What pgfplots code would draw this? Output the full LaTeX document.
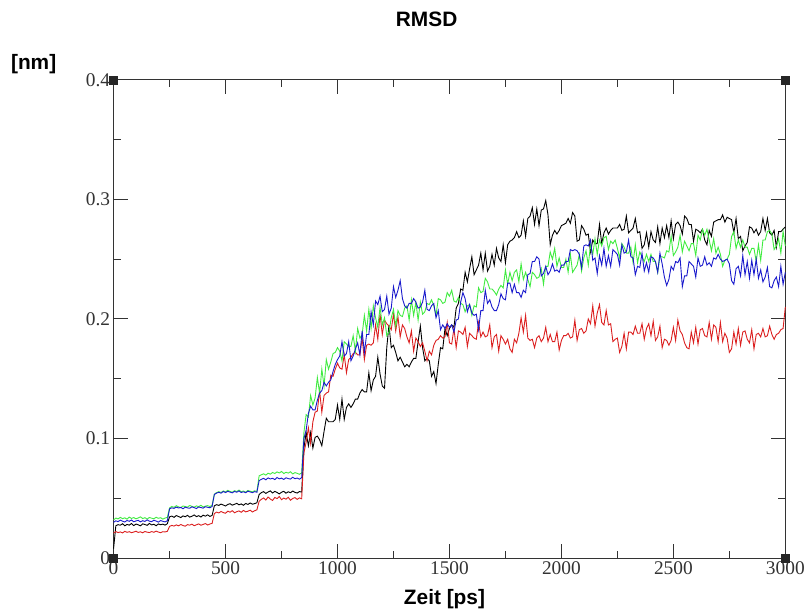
\documentclass[border=0pt]{standalone}
\usepackage{fontspec}
\setmainfont{Liberation Serif}
\newfontfamily\lsans{Liberation Sans}
\usepackage{pgfplots}
\usepackage{pgfplotstable}
\pgfplotsset{compat=1.18}

\definecolor{gBlack}{rgb}{0,0,0}
\definecolor{gRed}{rgb}{0.86,0.12,0.12}
\definecolor{gGreen}{rgb}{0.25,0.92,0.25}
\definecolor{gBlue}{rgb}{0.10,0.10,0.80}

% t = time [ps], k/r/g/b = black, red, green, blue series [nm]
\pgfplotstableread{
t k r g b
0 0.0080 0.0210 0.0320 0.0300
10 0.0270 0.0222 0.0335 0.0312
20 0.0280 0.0214 0.0328 0.0305
30 0.0275 0.0219 0.0341 0.0318
40 0.0288 0.0211 0.0330 0.0309
50 0.0270 0.0224 0.0337 0.0302
60 0.0282 0.0216 0.0326 0.0315
70 0.0276 0.0221 0.0343 0.0308
80 0.0290 0.0213 0.0332 0.0319
90 0.0272 0.0218 0.0339 0.0304
100 0.0285 0.0225 0.0329 0.0311
110 0.0279 0.0215 0.0336 0.0316
120 0.0270 0.0220 0.0345 0.0303
130 0.0287 0.0212 0.0331 0.0313
140 0.0281 0.0223 0.0338 0.0307
150 0.0274 0.0217 0.0327 0.0320
160 0.0290 0.0214 0.0340 0.0309
170 0.0278 0.0222 0.0334 0.0305
180 0.0283 0.0216 0.0329 0.0317
190 0.0271 0.0226 0.0342 0.0310
200 0.0286 0.0218 0.0333 0.0301
210 0.0279 0.0213 0.0338 0.0314
220 0.0284 0.0221 0.0326 0.0308
230 0.0276 0.0219 0.0335 0.0303
240 0.0288 0.0224 0.0341 0.0312
250 0.0345 0.0265 0.0420 0.0412
260 0.0352 0.0274 0.0432 0.0421
270 0.0341 0.0268 0.0425 0.0416
280 0.0356 0.0278 0.0438 0.0427
290 0.0348 0.0270 0.0429 0.0419
300 0.0339 0.0281 0.0422 0.0424
310 0.0353 0.0273 0.0436 0.0413
320 0.0346 0.0267 0.0431 0.0426
330 0.0358 0.0280 0.0427 0.0420
340 0.0343 0.0276 0.0440 0.0417
350 0.0350 0.0284 0.0433 0.0429
360 0.0361 0.0271 0.0426 0.0422
370 0.0347 0.0279 0.0437 0.0415
380 0.0355 0.0286 0.0430 0.0428
390 0.0344 0.0275 0.0442 0.0423
400 0.0359 0.0282 0.0428 0.0418
410 0.0351 0.0289 0.0435 0.0430
420 0.0362 0.0277 0.0439 0.0425
430 0.0349 0.0285 0.0431 0.0421
440 0.0357 0.0291 0.0444 0.0432
450 0.0438 0.0372 0.0535 0.0532
460 0.0447 0.0385 0.0548 0.0544
470 0.0441 0.0378 0.0556 0.0551
480 0.0452 0.0390 0.0549 0.0543
490 0.0444 0.0381 0.0562 0.0557
500 0.0436 0.0375 0.0553 0.0548
510 0.0449 0.0393 0.0567 0.0559
520 0.0455 0.0384 0.0558 0.0552
530 0.0443 0.0397 0.0551 0.0546
540 0.0450 0.0379 0.0564 0.0558
550 0.0458 0.0388 0.0557 0.0551
560 0.0446 0.0395 0.0569 0.0562
570 0.0453 0.0383 0.0555 0.0549
580 0.0442 0.0399 0.0561 0.0555
590 0.0457 0.0387 0.0552 0.0547
600 0.0449 0.0392 0.0566 0.0560
610 0.0461 0.0401 0.0559 0.0553
620 0.0451 0.0386 0.0554 0.0548
630 0.0456 0.0396 0.0563 0.0556
640 0.0463 0.0404 0.0557 0.0551
650 0.0532 0.0475 0.0688 0.0648
660 0.0548 0.0492 0.0697 0.0659
670 0.0556 0.0503 0.0705 0.0667
680 0.0541 0.0486 0.0694 0.0655
690 0.0553 0.0511 0.0710 0.0671
700 0.0562 0.0494 0.0702 0.0662
710 0.0545 0.0482 0.0716 0.0668
720 0.0558 0.0507 0.0708 0.0657
730 0.0549 0.0498 0.0721 0.0674
740 0.0537 0.0515 0.0712 0.0663
750 0.0551 0.0489 0.0725 0.0669
760 0.0559 0.0502 0.0707 0.0658
770 0.0543 0.0493 0.0718 0.0672
780 0.0555 0.0509 0.0711 0.0665
790 0.0547 0.0484 0.0722 0.0661
800 0.0561 0.0499 0.0704 0.0676
810 0.0550 0.0506 0.0715 0.0664
820 0.0544 0.0491 0.0709 0.0670
830 0.0557 0.0504 0.0701 0.0660
840 0.0552 0.0496 0.0713 0.0673
850 0.0920 0.0880 0.1050 0.1000
860 0.105 0.097 0.120 0.107
870 0.094 0.109 0.118 0.121
880 0.105 0.096 0.136 0.127
890 0.092 0.114 0.128 0.124
900 0.101 0.122 0.134 0.124
910 0.102 0.123 0.151 0.132
920 0.099 0.140 0.138 0.138
930 0.094 0.122 0.158 0.140
940 0.106 0.136 0.144 0.147
950 0.117 0.138 0.166 0.144
960 0.114 0.139 0.158 0.147
970 0.114 0.153 0.164 0.149
980 0.114 0.152 0.171 0.156
990 0.116 0.158 0.172 0.162
1000 0.128 0.163 0.176 0.166
1010 0.116 0.159 0.173 0.169
1020 0.133 0.158 0.165 0.181
1030 0.116 0.170 0.181 0.169
1040 0.126 0.155 0.179 0.171
1050 0.129 0.166 0.177 0.181
1060 0.126 0.168 0.177 0.165
1070 0.129 0.171 0.186 0.169
1080 0.133 0.172 0.173 0.175
1090 0.133 0.170 0.192 0.180
1100 0.138 0.170 0.184 0.170
1110 0.141 0.184 0.187 0.190
1120 0.139 0.166 0.203 0.172
1130 0.139 0.178 0.190 0.187
1140 0.155 0.179 0.208 0.187
1150 0.140 0.178 0.192 0.206
1160 0.149 0.180 0.211 0.195
1170 0.152 0.195 0.201 0.215
1180 0.168 0.183 0.193 0.212
1190 0.154 0.204 0.210 0.219
1200 0.144 0.187 0.195 0.206
1210 0.142 0.199 0.201 0.208
1220 0.176 0.196 0.186 0.219
1230 0.195 0.194 0.189 0.204
1240 0.176 0.191 0.201 0.209
1250 0.178 0.204 0.208 0.227
1260 0.172 0.190 0.194 0.218
1270 0.165 0.202 0.207 0.224
1280 0.168 0.185 0.203 0.232
1290 0.164 0.195 0.202 0.217
1300 0.160 0.192 0.209 0.211
1310 0.162 0.185 0.211 0.209
1320 0.160 0.180 0.199 0.213
1330 0.164 0.190 0.216 0.213
1340 0.167 0.173 0.203 0.217
1350 0.167 0.184 0.214 0.214
1360 0.181 0.181 0.199 0.209
1370 0.194 0.177 0.214 0.210
1380 0.176 0.180 0.204 0.214
1390 0.165 0.173 0.206 0.224
1400 0.167 0.165 0.213 0.208
1410 0.165 0.173 0.212 0.207
1420 0.152 0.170 0.216 0.211
1430 0.156 0.178 0.211 0.213
1440 0.146 0.182 0.203 0.201
1450 0.162 0.183 0.217 0.207
1460 0.176 0.186 0.216 0.191
1470 0.175 0.184 0.213 0.195
1480 0.192 0.185 0.214 0.192
1490 0.186 0.197 0.222 0.196
1500 0.192 0.180 0.219 0.193
1510 0.195 0.179 0.224 0.195
1520 0.193 0.192 0.215 0.189
1530 0.209 0.176 0.214 0.199
1540 0.213 0.190 0.218 0.200
1550 0.225 0.189 0.213 0.214
1560 0.224 0.187 0.212 0.222
1570 0.239 0.193 0.206 0.217
1580 0.231 0.177 0.211 0.206
1590 0.242 0.188 0.212 0.212
1600 0.252 0.186 0.203 0.205
1610 0.237 0.184 0.211 0.203
1620 0.241 0.183 0.210 0.204
1630 0.245 0.197 0.226 0.191
1640 0.255 0.185 0.222 0.207
1650 0.241 0.189 0.223 0.207
1660 0.255 0.185 0.234 0.224
1670 0.240 0.186 0.231 0.213
1680 0.244 0.195 0.225 0.216
1690 0.254 0.176 0.225 0.210
1700 0.245 0.185 0.223 0.207
1710 0.259 0.187 0.220 0.207
1720 0.251 0.173 0.225 0.212
1730 0.248 0.186 0.228 0.221
1740 0.262 0.183 0.226 0.217
1750 0.247 0.179 0.241 0.216
1760 0.262 0.183 0.229 0.230
1770 0.265 0.175 0.239 0.230
1780 0.266 0.172 0.232 0.222
1790 0.268 0.183 0.239 0.229
1800 0.273 0.180 0.241 0.222
1810 0.268 0.188 0.231 0.222
1820 0.270 0.201 0.246 0.218
1830 0.282 0.189 0.233 0.224
1840 0.269 0.203 0.239 0.222
1850 0.284 0.184 0.233 0.237
1860 0.286 0.182 0.227 0.238
1870 0.293 0.183 0.239 0.248
1880 0.279 0.176 0.237 0.248
1890 0.292 0.184 0.234 0.252
1900 0.278 0.186 0.235 0.250
1910 0.291 0.181 0.242 0.236
1920 0.292 0.184 0.229 0.238
1930 0.299 0.193 0.244 0.244
1940 0.287 0.181 0.244 0.237
1950 0.262 0.187 0.256 0.240
1960 0.270 0.181 0.250 0.246
1970 0.274 0.181 0.259 0.240
1980 0.271 0.189 0.244 0.241
1990 0.274 0.174 0.251 0.239
2000 0.278 0.182 0.243 0.245
2010 0.279 0.186 0.243 0.245
2020 0.280 0.186 0.250 0.248
2030 0.284 0.188 0.239 0.248
2040 0.280 0.184 0.254 0.258
2050 0.289 0.185 0.239 0.257
2060 0.286 0.199 0.242 0.258
2070 0.265 0.182 0.245 0.257
2080 0.266 0.191 0.254 0.254
2090 0.278 0.192 0.240 0.243
2100 0.275 0.188 0.251 0.261
2110 0.270 0.190 0.257 0.262
2120 0.271 0.200 0.245 0.261
2130 0.256 0.196 0.262 0.266
2140 0.266 0.211 0.254 0.249
2150 0.263 0.194 0.267 0.251
2160 0.263 0.205 0.254 0.238
2170 0.279 0.212 0.266 0.253
2180 0.263 0.197 0.261 0.245
2190 0.272 0.195 0.268 0.259
2200 0.276 0.207 0.269 0.244
2210 0.271 0.195 0.258 0.253
2220 0.274 0.196 0.265 0.244
2230 0.276 0.181 0.263 0.258
2240 0.276 0.183 0.266 0.256
2250 0.276 0.184 0.259 0.254
2260 0.279 0.172 0.251 0.245
2270 0.274 0.177 0.263 0.262
2280 0.275 0.188 0.260 0.255
2290 0.286 0.175 0.255 0.256
2300 0.272 0.189 0.255 0.266
2310 0.274 0.189 0.260 0.252
2320 0.276 0.187 0.247 0.251
2330 0.284 0.194 0.262 0.237
2340 0.272 0.188 0.247 0.244
2350 0.273 0.188 0.256 0.243
2360 0.259 0.196 0.252 0.255
2370 0.262 0.183 0.248 0.240
2380 0.272 0.192 0.254 0.247
2390 0.260 0.196 0.248 0.239
2400 0.273 0.186 0.254 0.252
2410 0.266 0.198 0.248 0.251
2420 0.264 0.182 0.248 0.248
2430 0.277 0.185 0.239 0.239
2440 0.263 0.194 0.252 0.255
2450 0.276 0.176 0.252 0.246
2460 0.268 0.183 0.251 0.235
2470 0.278 0.182 0.257 0.228
2480 0.268 0.178 0.256 0.233
2490 0.282 0.182 0.269 0.244
2500 0.267 0.193 0.253 0.241
2510 0.279 0.182 0.256 0.248
2520 0.281 0.199 0.260 0.247
2530 0.278 0.190 0.270 0.251
2540 0.271 0.187 0.256 0.227
2550 0.286 0.180 0.265 0.236
2560 0.284 0.176 0.261 0.236
2570 0.279 0.175 0.257 0.248
2580 0.279 0.189 0.263 0.246
2590 0.265 0.180 0.263 0.244
2600 0.275 0.193 0.253 0.235
2610 0.274 0.179 0.270 0.251
2620 0.272 0.191 0.266 0.244
2630 0.275 0.192 0.275 0.245
2640 0.266 0.186 0.270 0.252
2650 0.262 0.185 0.275 0.245
2660 0.274 0.197 0.266 0.247
2670 0.269 0.183 0.257 0.244
2680 0.281 0.195 0.267 0.251
2690 0.282 0.193 0.255 0.250
2700 0.283 0.181 0.260 0.254
2710 0.283 0.197 0.254 0.250
2720 0.287 0.181 0.244 0.248
2730 0.281 0.188 0.249 0.249
2740 0.285 0.184 0.250 0.250
2750 0.284 0.172 0.254 0.246
2760 0.283 0.175 0.269 0.232
2770 0.272 0.189 0.273 0.229
2780 0.284 0.179 0.259 0.242
2790 0.267 0.192 0.266 0.244
2800 0.269 0.178 0.260 0.236
2810 0.257 0.189 0.266 0.253
2820 0.261 0.190 0.260 0.237
2830 0.264 0.183 0.260 0.248
2840 0.277 0.180 0.254 0.234
2850 0.276 0.191 0.259 0.249
2860 0.272 0.175 0.259 0.237
2870 0.275 0.187 0.248 0.250
2880 0.270 0.188 0.262 0.234
2890 0.273 0.185 0.249 0.241
2900 0.284 0.192 0.266 0.231
2910 0.274 0.185 0.266 0.235
2920 0.284 0.186 0.273 0.243
2930 0.272 0.194 0.274 0.227
2940 0.270 0.187 0.271 0.226
2950 0.274 0.183 0.258 0.232
2960 0.260 0.187 0.261 0.235
2970 0.273 0.188 0.267 0.227
2980 0.273 0.191 0.255 0.244
2990 0.275 0.192 0.273 0.229
3000 0.277 0.210 0.261 0.239
}\rmsd

\begin{document}
\begin{tikzpicture}
\begin{axis}[
    scale only axis,
    width=674bp, height=480bp,
    xmin=0, xmax=3000, ymin=0, ymax=0.4,
    xtick={0,500,1000,1500,2000,2500,3000},
    ytick={0,0.1,0.2,0.3,0.4},
    minor x tick num=1, minor y tick num=1,
    tick align=inside,
    major tick length=14bp, minor tick length=7.5bp,
    axis line style={black!80, line width=1.1bp},
    every tick/.style={black!80, line width=1bp},
    tick label style={font=\fontsize{19.5}{22}\selectfont, text=black!80},
    /pgf/number format/assume math mode=true,
    /pgf/number format/1000 sep={},
    title={RMSD},
    title style={at={(axis description cs:0.466,1.1146)}, anchor=center,
        font=\lsans\bfseries\fontsize{21}{24}\selectfont},
    xlabel={Zeit [ps]},
    xlabel style={at={(axis description cs:0.4926,-0.0854)}, anchor=center,
        font=\lsans\bfseries\fontsize{21}{24}\selectfont},
    ylabel={[nm]},
    ylabel style={at={(axis description cs:-0.119,1.033)}, anchor=center, rotate=-90,
        font=\lsans\bfseries\fontsize{21}{24}\selectfont},
    clip=false,
]
\addplot[gBlack, line width=0.9bp] table[x=t, y=k] {\rmsd};
\addplot[gRed, line width=0.9bp] table[x=t, y=r] {\rmsd};
\addplot[gGreen, line width=0.9bp] table[x=t, y=g] {\rmsd};
\addplot[gBlue, line width=0.9bp] table[x=t, y=b] {\rmsd};
% corner markers of the frame
\addplot[only marks, mark=square*, mark size=4bp, black!85] coordinates {(0,0) (3000,0) (0,0.4) (3000,0.4)};
% page extent
\path (rel axis cs:-0.1691,-0.1167) rectangle (rel axis cs:1.0297,1.1667);
\end{axis}
\end{tikzpicture}
\end{document}
